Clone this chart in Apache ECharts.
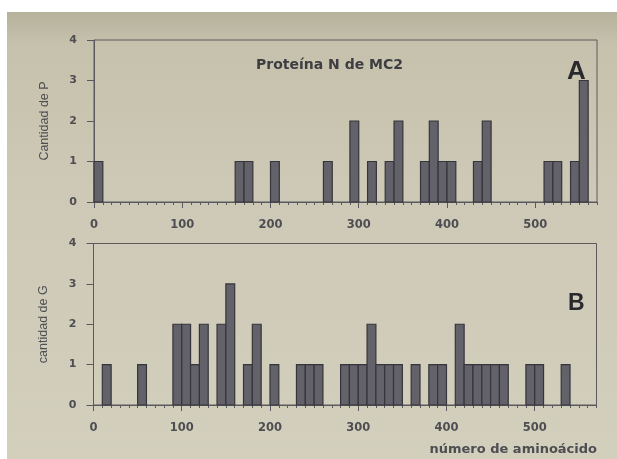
<!DOCTYPE html>
<html>
<head>
<meta charset="utf-8">
<script src="https://cdn.jsdelivr.net/npm/echarts@6/dist/echarts.min.js"></script>
<style>
  html, body { margin: 0; padding: 0; background: #ffffff; }
  #chart { width: 617px; height: 459px; }
</style>
</head>
<body>
<div id="chart"></div>
<script>
// Residue counts per 10-aminoacid window along protein N of MC2
const BIN = 10;                 // window width (aminoacids)
const SEQ_MAX = 570;            // last residue position shown

// Panel A: proline (P) counts, keyed by window start
const pBins   = [0, 160, 170, 200, 260, 290, 310, 330, 340, 370, 380, 390, 400, 430, 440, 510, 520, 540, 550];
const pCounts = [1,   1,   1,   1,   1,   2,   1,   1,   2,   1,   2,   1,   1,   1,   2,   1,   1,   1,   3];

// Panel B: glycine (G) counts, keyed by window start
const gBins   = [10, 50, 90, 100, 110, 120, 140, 150, 170, 180, 200, 230, 240, 250, 280, 290, 300,
                 310, 320, 330, 340, 360, 380, 390, 410, 420, 430, 440, 450, 460, 490, 500, 530];
const gCounts = [1,  1,  2,  2,   1,   2,   2,   3,   1,   2,   1,   1,   1,   1,   1,   1,   1,
                 2,   1,   1,   1,   1,   1,   1,   2,   1,   1,   1,   1,   1,   1,   1,   1];

const yTicks = [0, 1, 2, 3, 4];

const INK = '#4e4e52';
const AXIS = '#5a5a5e';
const BAR_FILL = '#636169';
const BAR_EDGE = '#36353b';

const chart = echarts.init(document.getElementById('chart'), null, { renderer: 'canvas' });

function renderBin(params, api) {
  const start = api.value(0);
  const count = api.value(1);
  const base = api.coord([start, 0]);
  const top = api.coord([start + BIN, count]);
  return {
    type: 'rect',
    shape: { x: base[0], y: top[1], width: top[0] - base[0], height: base[1] - top[1] },
    style: { fill: BAR_FILL, stroke: BAR_EDGE, lineWidth: 1.2 }
  };
}

function minorX(gridIndex) {
  return {
    type: 'value', gridIndex, min: 0, max: SEQ_MAX, interval: BIN,
    position: 'bottom', offset: 0,
    axisLine: { show: true, onZero: false, lineStyle: { color: AXIS, width: 1 } },
    axisTick: { show: true, length: 3, lineStyle: { color: AXIS } },
    axisLabel: { show: false },
    splitLine: { show: false }
  };
}

function majorX(gridIndex) {
  return {
    type: 'value', gridIndex, min: 0, max: SEQ_MAX, interval: 100,
    position: 'bottom', offset: 0,
    axisLine: { show: false, onZero: false },
    axisTick: { show: true, length: 6, lineStyle: { color: AXIS } },
    axisLabel: {
      show: true, margin: 17, showMaxLabel: false,
      fontFamily: 'DejaVu Sans', fontWeight: 'bold', fontSize: 11.5, color: INK,
      formatter: v => (v % 100 === 0 ? String(v) : '')
    },
    splitLine: { show: false }
  };
}

function yAxisFor(gridIndex, name) {
  return {
    type: 'value', gridIndex, min: yTicks[0], max: yTicks[yTicks.length - 1], interval: 1,
    name, nameLocation: 'middle', nameGap: 43, nameRotate: 90,
    nameTextStyle: { fontFamily: 'Liberation Sans', fontSize: 12.5, color: INK },
    axisLine: { show: true, lineStyle: { color: AXIS, width: 1 } },
    axisTick: { show: true, length: 7, lineStyle: { color: AXIS } },
    axisLabel: {
      margin: 17, fontFamily: 'DejaVu Sans', fontWeight: 'bold', fontSize: 11, color: INK
    },
    splitLine: { show: false }
  };
}

chart.setOption({
  animation: false,
  backgroundColor: '#ffffff',
  graphic: [
    {
      type: 'rect', z: -10, silent: true,
      shape: { x: 7, y: 12, width: 610, height: 447 },
      style: {
        fill: new echarts.graphic.LinearGradient(0, 0, 0, 1, [
          { offset: 0, color: '#b5b19b' },
          { offset: 0.07, color: '#c5c1ac' },
          { offset: 0.4, color: '#cdc9b6' },
          { offset: 1, color: '#d3cfbd' }
        ])
      }
    },
    {
      type: 'text', left: 256, top: 58,
      style: { text: 'Proteína N de MC2', fontFamily: 'DejaVu Sans', fontWeight: 'bold', fontSize: 14, fill: '#3e3e42' }
    },
    {
      type: 'text', left: 567, top: 59,
      style: { text: 'A', fontFamily: 'Liberation Sans', fontWeight: 'bold', fontSize: 26, fill: '#2a2a2e' }
    },
    {
      type: 'text', left: 568, top: 292,
      style: { text: 'B', fontFamily: 'Liberation Sans', fontWeight: 'bold', fontSize: 23, fill: '#2a2a2e' }
    },
    {
      type: 'text', right: 20, top: 443,
      style: { text: 'número de aminoácido', fontFamily: 'DejaVu Sans', fontWeight: 'bold', fontSize: 13, fill: INK }
    }
  ],
  grid: [
    { left: 94, top: 40, width: 503, height: 162, show: true, borderColor: AXIS, borderWidth: 1, backgroundColor: 'transparent' },
    { left: 93.5, top: 243.5, width: 503, height: 161.5, show: true, borderColor: AXIS, borderWidth: 1, backgroundColor: 'transparent' }
  ],
  xAxis: [minorX(0), majorX(0), minorX(1), majorX(1)],
  yAxis: [yAxisFor(0, 'Cantidad de P'), yAxisFor(1, 'cantidad de G')],
  series: [
    {
      type: 'custom', xAxisIndex: 0, yAxisIndex: 0,
      renderItem: renderBin, encode: { x: 0, y: 1 },
      data: pBins.map((b, i) => [b, pCounts[i]])
    },
    {
      type: 'custom', xAxisIndex: 2, yAxisIndex: 1,
      renderItem: renderBin, encode: { x: 0, y: 1 },
      data: gBins.map((b, i) => [b, gCounts[i]])
    }
  ]
});
</script>
</body>
</html>
